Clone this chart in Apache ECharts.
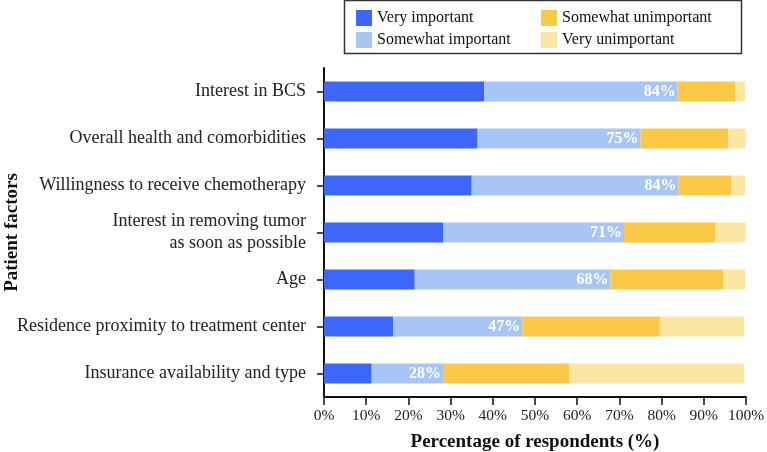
<!DOCTYPE html>
<html><head><meta charset="utf-8">
<script src="https://cdn.jsdelivr.net/npm/echarts@6/dist/echarts.min.js"></script>
<style>html,body{margin:0;padding:0;background:#fff}#c{width:767px;height:452px}</style>
</head><body><div id="c"></div>
<script>
const categories = [
  "Interest in BCS",
  "Overall health and comorbidities",
  "Willingness to receive chemotherapy",
  "Interest in removing tumor\nas soon as possible",
  "Age",
  "Residence proximity to treatment center",
  "Insurance availability and type"
];
const veryImportant = [38, 36.4, 35, 28.3, 21.5, 16.4, 11.3];
const somewhatImportant = [45.8, 38.6, 49, 42.8, 46.4, 30.6, 16.9];
const somewhatUnimportant = [13.6, 20.8, 12.5, 21.6, 26.7, 32.6, 30];
const veryUnimportant = [2.4, 4.1, 3.3, 7.2, 5.2, 20, 41.4];
const importantTotals = ["84%", "75%", "84%", "71%", "68%", "47%", "28%"];
const xTicks = [0, 10, 20, 30, 40, 50, 60, 70, 80, 90, 100];

const serif = "'Liberation Serif', 'DejaVu Serif', serif";
const chart = echarts.init(document.getElementById('c'));
const mk = (name, data, color, label) => ({
  name, type: 'bar', stack: 's', data, barWidth: 20,
  itemStyle: { color },
  label: label ? {
    show: true, position: 'insideRight', color: '#fff', fontWeight: 'bold',
    fontFamily: serif, fontSize: 16, distance: 2,
    formatter: p => importantTotals[p.dataIndex]
  } : { show: false }
});
const legendText = { fontFamily: serif, fontSize: 16, color: '#111', padding: [0,0,0,0] };
chart.setOption({
  animation: false,
  textStyle: { fontFamily: serif },
  grid: { left: 324, right: 21, top: 68, bottom: 55, containLabel: false, outerBoundsMode: 'none' },
  legend: [
    { left: 351, top: 5, orient: 'vertical', icon: 'rect', itemWidth: 16, itemHeight: 16, itemGap: 6,
      data: ['Very important', 'Somewhat important'], textStyle: legendText },
    { left: 536, top: 5, orient: 'vertical', icon: 'rect', itemWidth: 16, itemHeight: 16, itemGap: 6,
      data: ['Somewhat unimportant', 'Very unimportant'], textStyle: legendText }
  ],
  graphic: [{ type: 'rect', shape: { x: 344.5, y: 0.5, width: 397, height: 53 },
    style: { fill: 'none', stroke: '#333', lineWidth: 1.5 } }],
  xAxis: {
    type: 'value', min: 0, max: 100, interval: 10,
    name: 'Percentage of respondents (%)', nameLocation: 'middle', nameGap: 36,
    nameMoveOverlap: false,
    nameTextStyle: { fontFamily: serif, fontWeight: 'bold', fontSize: 19, color: '#111' },
    axisLine: { show: true, lineStyle: { color: '#111', width: 2 } },
    axisTick: { show: true, length: 8, lineStyle: { color: '#111', width: 1.5 } },
    axisLabel: { fontFamily: serif, fontSize: 15.5, color: '#222', margin: 11,
      formatter: v => xTicks.includes(v) ? v + '%' : '' },
    splitLine: { show: false }
  },
  yAxis: {
    type: 'category', data: categories, inverse: true,
    name: 'Patient factors', nameLocation: 'middle', nameGap: 302, nameRotate: 90,
    nameMoveOverlap: false,
    nameTextStyle: { fontFamily: serif, fontWeight: 'bold', fontSize: 19, color: '#111' },
    axisLine: { show: true, lineStyle: { color: '#111', width: 2 } },
    axisTick: { show: true, alignWithLabel: true, length: 7, lineStyle: { color: '#111', width: 1.5 } },
    axisLabel: { fontFamily: serif, fontSize: 18, color: '#222', margin: 18, lineHeight: 22, align: 'right' }
  },
  series: [
    mk('Very important', veryImportant, '#3d67fb'),
    mk('Somewhat important', somewhatImportant, '#a7c6f6', true),
    mk('Somewhat unimportant', somewhatUnimportant, '#fbc946'),
    mk('Very unimportant', veryUnimportant, '#fce6a4')
  ]
});
</script></body></html>
